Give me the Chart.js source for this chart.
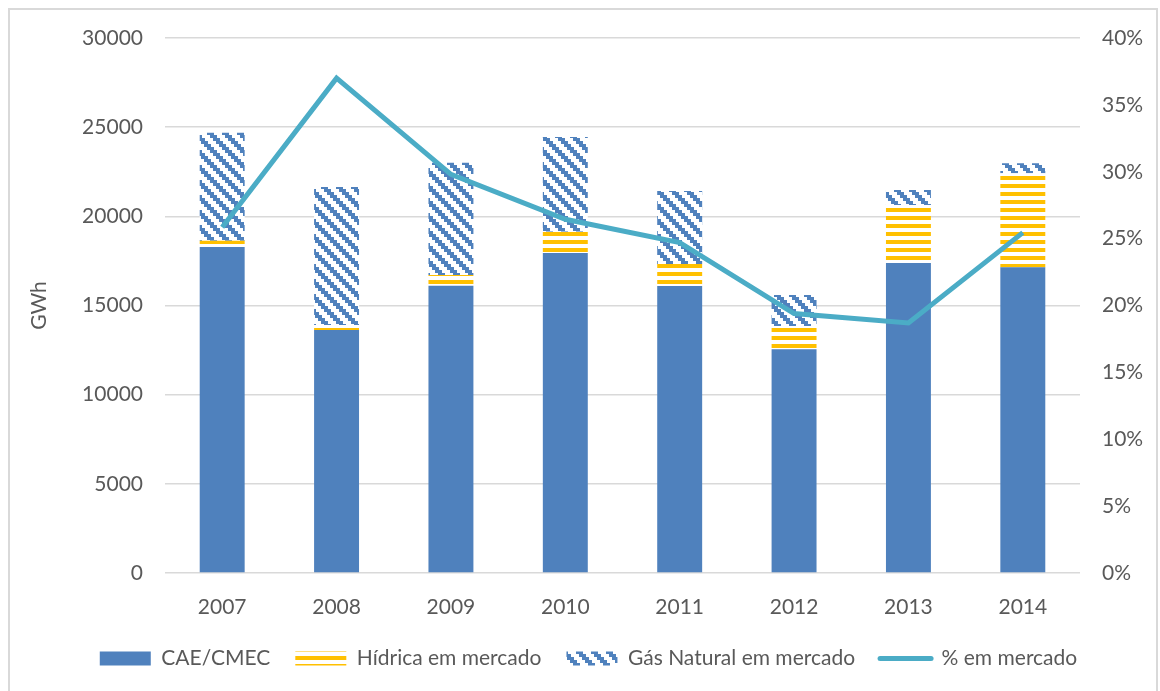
<!DOCTYPE html>
<html>
<head>
<meta charset="utf-8">
<title>Produção em mercado</title>
<script src="https://cdn.jsdelivr.net/npm/chart.js@4.4.1/dist/chart.umd.min.js"></script>
<style>
  html, body { margin: 0; padding: 0; background: #fff; }
  .frame {
    position: absolute; left: 8px; top: 8px; width: 1150px; height: 690px;
    border: 2px solid #d9d9d9; border-bottom: none; box-sizing: border-box;
  }
  .wrap { position: absolute; left: 0; top: 0; width: 1160px; height: 691px; }
</style>
</head>
<body>
<div class="frame"></div>
<div class="wrap"><canvas id="mercadoChart"></canvas></div>
<script>
const anos = ['2007', '2008', '2009', '2010', '2011', '2012', '2013', '2014'];
const caeCmec = [18280, 13620, 16110, 17940, 16090, 12540, 17380, 17140];
const hidrica = [350, 280, 600, 1200, 1240, 1310, 3260, 5270];
const gasNatural = [6060, 7750, 6300, 5310, 4090, 1740, 840, 560];
const pctMercado = [25.85, 37.0, 29.8, 26.45, 24.7, 19.4, 18.7, 25.45];

const FONT = 'Lato, "Open Sans", sans-serif';
const TEXT = '#595959';

const ctx = document.getElementById('mercadoChart').getContext('2d');

// yellow horizontal bands
function bandasHorizontais() {
    const c = document.createElement('canvas');
    c.width = 8; c.height = 8;
    const g = c.getContext('2d');
    g.fillStyle = '#ffffff';
    g.fillRect(0, 0, 8, 8);
    g.fillStyle = '#FFC000';
    g.fillRect(0, 0, 8, 4);
    return ctx.createPattern(c, 'repeat');
}

// blue stepped downward diagonal
function diagonalDescendente() {
    const c = document.createElement('canvas');
    c.width = 15; c.height = 15;
    const g = c.getContext('2d');
    g.fillStyle = '#ffffff';
    g.fillRect(0, 0, 15, 15);
    g.fillStyle = '#4F81BD';
    for (let y = 0; y < 15; y += 3) {
        for (let k = 0; k < 7; k++) {
            g.fillRect((y + k) % 15, y, 1, 3);
        }
    }
    return ctx.createPattern(c, 'repeat');
}

const chart = new Chart(ctx, {
    type: 'bar',
    data: {
        labels: anos,
        datasets: [{
            label: 'CAE/CMEC',
            data: caeCmec,
            backgroundColor: '#4F81BD',
            order: 1
        }, {
            label: 'Hídrica em mercado',
            data: hidrica,
            backgroundColor: bandasHorizontais(),
            order: 1
        }, {
            label: 'Gás Natural em mercado',
            data: gasNatural,
            backgroundColor: diagonalDescendente(),
            order: 1
        }, {
            type: 'line',
            label: '% em mercado',
            data: pctMercado,
            yAxisID: 'y1',
            borderColor: '#4BACC6',
            backgroundColor: '#4BACC6',
            borderWidth: 5,
            pointRadius: 0,
            tension: 0,
            order: 0
        }]
    },
    options: {
        responsive: true,
        maintainAspectRatio: false,
        animation: false,
        datasets: {
            bar: { categoryPercentage: 1, barPercentage: 0.393 }
        },
        layout: {
            padding: { top: 38, left: 27, right: 10, bottom: 12 }
        },
        plugins: {
            tooltip: { enabled: false },
            legend: {
                position: 'bottom',
                labels: {
                    usePointStyle: true,
                    pointStyleWidth: 51,
                    boxHeight: 14,
                    padding: 25,
                    color: TEXT,
                    font: { family: FONT, size: 21 },
                    generateLabels: function(chart) {
                        return chart.data.datasets.map(function(ds, i) {
                            const isLine = ds.type === 'line';
                            return {
                                text: ds.label,
                                fillStyle: isLine ? 'rgba(0,0,0,0)' : ds.backgroundColor,
                                strokeStyle: isLine ? ds.borderColor : 'rgba(0,0,0,0)',
                                lineWidth: isLine ? 5 : 0,
                                lineCap: 'round',
                                pointStyle: isLine ? 'line' : 'rect',
                                fontColor: TEXT,
                                hidden: false,
                                datasetIndex: i
                            };
                        });
                    }
                }
            }
        },
        scales: {
            x: {
                stacked: true,
                grid: { display: false },
                border: { display: false },
                ticks: { color: TEXT, padding: 14, font: { family: FONT, size: 21 } },
                afterFit: function(scale) { scale.height = 50; }
            },
            y: {
                stacked: true,
                min: 0,
                max: 30000,
                grid: { color: '#D9D9D9', lineWidth: 1.5, drawTicks: false },
                border: { display: false },
                ticks: {
                    stepSize: 5000,
                    color: TEXT,
                    padding: 22,
                    font: { family: FONT, size: 21 },
                    callback: function(value) { return String(value); }
                },
                title: {
                    display: true,
                    text: 'GWh',
                    color: TEXT,
                    padding: 0,
                    font: { family: FONT, size: 21 }
                },
                afterFit: function(scale) { scale.width = 138; }
            },
            y1: {
                position: 'right',
                min: 0,
                max: 40,
                grid: { display: false, drawTicks: false },
                border: { display: false },
                ticks: {
                    stepSize: 5,
                    color: TEXT,
                    padding: 22,
                    font: { family: FONT, size: 21 },
                    callback: function(value) { return value + '%'; }
                },
                afterFit: function(scale) { scale.width = 70; }
            }
        }
    }
});
</script>
</body>
</html>
